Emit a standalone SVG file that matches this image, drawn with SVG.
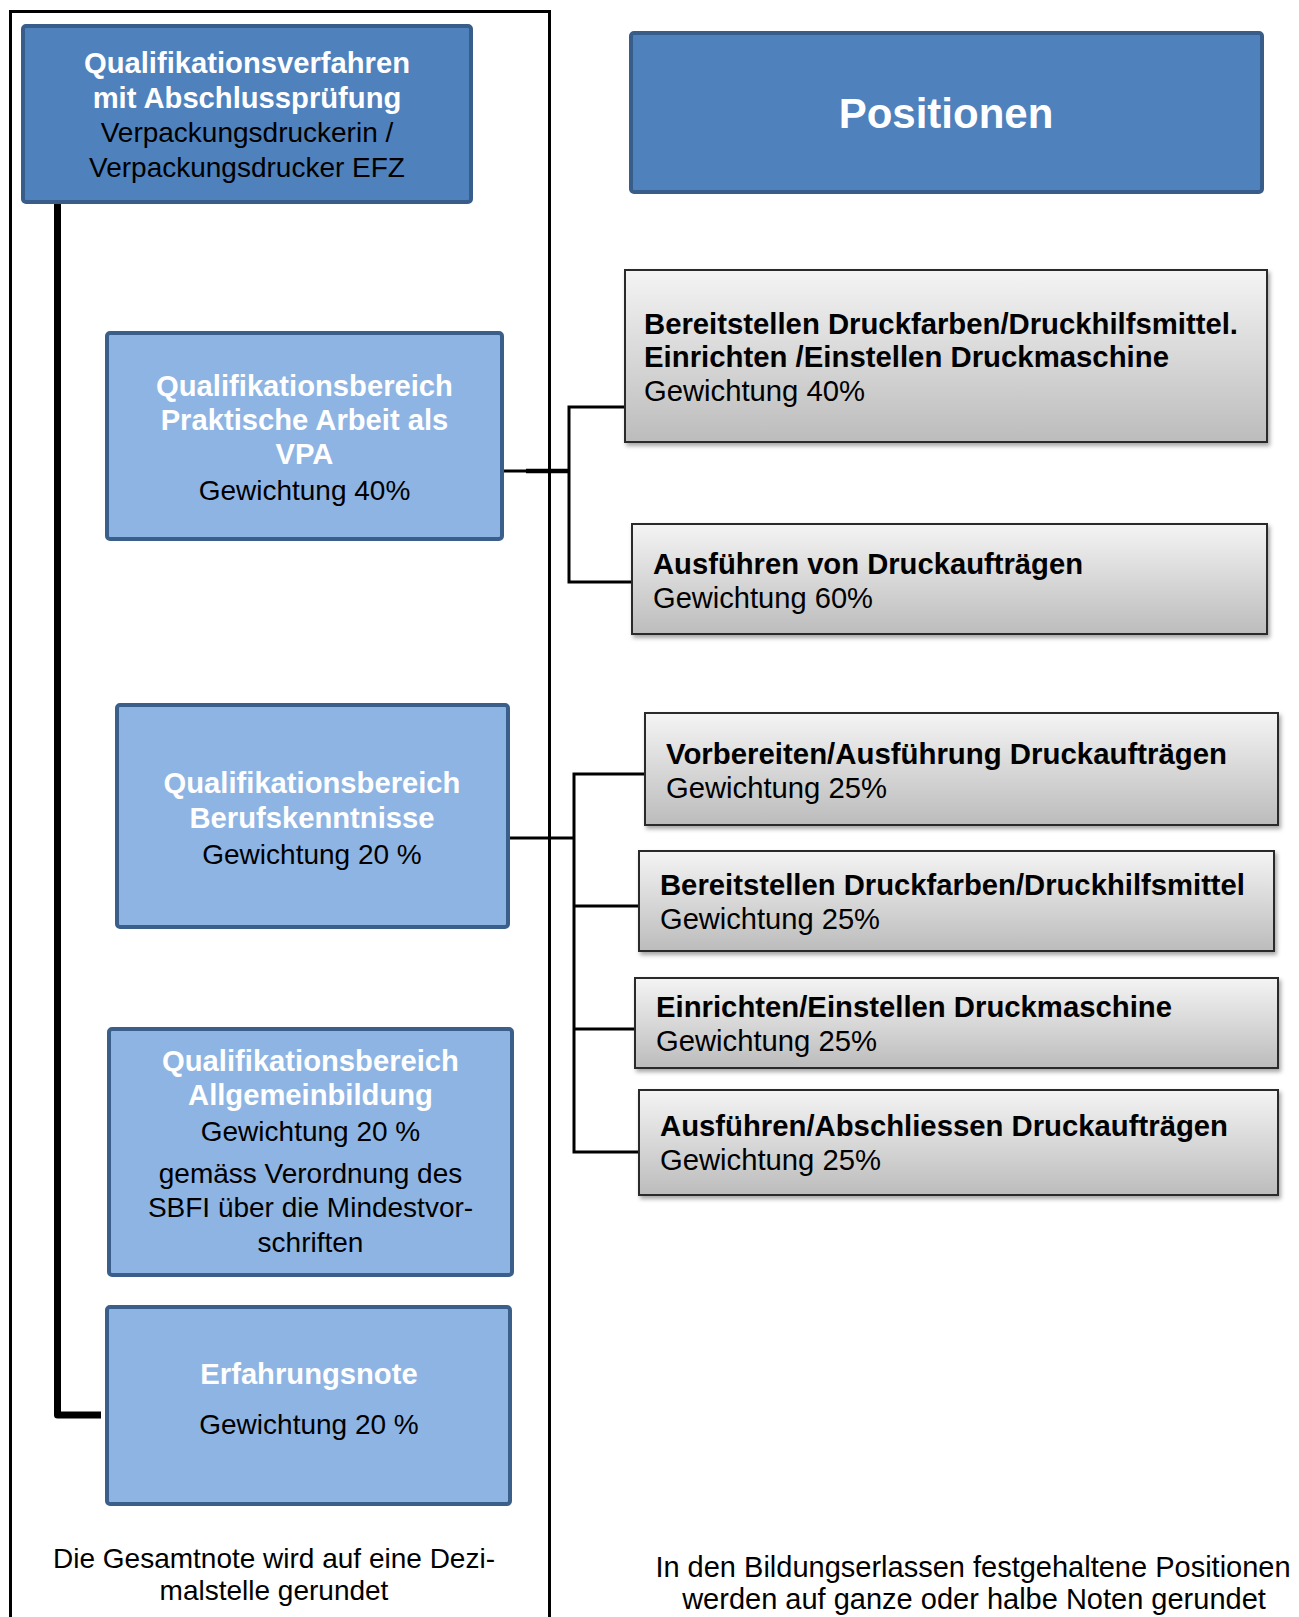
<svg xmlns="http://www.w3.org/2000/svg" width="1299" height="1617" viewBox="0 0 1299 1617">
<defs>
<linearGradient id="gray" x1="0" y1="0" x2="0" y2="1">
<stop offset="0" stop-color="#F4F4F4"/>
<stop offset="1" stop-color="#BCBCBC"/>
</linearGradient>
<filter id="shadow" x="-5%" y="-10%" width="110%" height="130%">
<feDropShadow dx="2" dy="3" stdDeviation="2" flood-color="#000" flood-opacity="0.35"/>
</filter>
</defs>
<style>
text{font-family:"Liberation Sans",Arial,sans-serif;}
.dark{fill:#4F81BD;stroke:#385D8A;stroke-width:4;}
.light{fill:#8EB4E3;stroke:#3A5F8B;stroke-width:4;}
.gbox{fill:url(#gray);stroke:#2B2B2B;stroke-width:2;filter:url(#shadow);}
.tw{fill:#FFFFFF;font-weight:bold;font-size:29.2px;text-anchor:middle;}
.tb{fill:#000000;font-size:28px;text-anchor:middle;}
.rb{fill:#000000;font-weight:bold;font-size:30px;}
.rr{fill:#000000;font-size:30px;}
.nr{fill:#000000;font-size:29px;text-anchor:middle;}
.con{fill:none;stroke:#000;stroke-width:3;}
</style>
<rect x="0" y="0" width="1299" height="1617" fill="#FFFFFF"/>
<g id="frame">
<path d="M10.5,1620 V11.5 H549.5 V1620" fill="none" stroke="#000" stroke-width="3"/>
</g>
<g id="connectors">
<path d="M57.5,202 V1415 H101" fill="none" stroke="#000" stroke-width="7" stroke-linejoin="round"/>
<path class="con" d="M503,471 H569"/>
<path d="M526,471 H569" fill="none" stroke="#000" stroke-width="4.5"/>
<path class="con" d="M625,407 H569 V582 H632"/>
<path class="con" d="M508,838 H574"/>
<path class="con" d="M645,774 H574 V1152 H639"/>
<path class="con" d="M574,906 H639"/>
<path class="con" d="M574,1029 H635"/>
</g>
<g id="qv">
<rect class="dark" x="23" y="26" width="448" height="176" rx="3"/>
<text class="tw" x="247" y="73">Qualifikationsverfahren</text>
<text class="tw" x="247" y="108">mit Abschlussprüfung</text>
<text class="tb" x="247" y="142">Verpackungsdruckerin /</text>
<text class="tb" x="247" y="177">Verpackungsdrucker EFZ</text>
</g>
<g id="positionen">
<rect class="dark" x="631" y="33" width="631" height="159" rx="3"/>
<text x="946" y="128" fill="#FFFFFF" font-weight="bold" font-size="42" text-anchor="middle">Positionen</text>
</g>
<g id="qb-praktisch">
<rect class="light" x="107" y="333" width="395" height="206" rx="3"/>
<text class="tw" x="304.5" y="396">Qualifikationsbereich</text>
<text class="tw" x="304.5" y="430">Praktische Arbeit als</text>
<text class="tw" x="304.5" y="464">VPA</text>
<text class="tb" x="304.5" y="500">Gewichtung 40%</text>
</g>
<g id="qb-beruf">
<rect class="light" x="117" y="705" width="391" height="222" rx="3"/>
<text class="tw" x="312" y="793">Qualifikationsbereich</text>
<text class="tw" x="312" y="828">Berufskenntnisse</text>
<text class="tb" x="312" y="864">Gewichtung 20 %</text>
</g>
<g id="qb-allg">
<rect class="light" x="109" y="1029" width="403" height="246" rx="3"/>
<text class="tw" x="310.5" y="1071">Qualifikationsbereich</text>
<text class="tw" x="310.5" y="1105">Allgemeinbildung</text>
<text class="tb" x="310.5" y="1141">Gewichtung 20 %</text>
<text class="tb" x="310.5" y="1183">gemäss Verordnung des</text>
<text class="tb" x="310.5" y="1217">SBFI über die Mindestvor-</text>
<text class="tb" x="310.5" y="1252">schriften</text>
</g>
<g id="erfahrung">
<rect class="light" x="107" y="1307" width="403" height="197" rx="3"/>
<text class="tw" x="309" y="1384">Erfahrungsnote</text>
<text class="tb" x="309" y="1434">Gewichtung 20 %</text>
</g>
<g id="p1">
<rect class="gbox" x="625" y="270" width="642" height="172"/>
<text class="rb" x="644" y="334" textLength="594" lengthAdjust="spacingAndGlyphs">Bereitstellen Druckfarben/Druckhilfsmittel.</text>
<text class="rb" x="644" y="367" textLength="525" lengthAdjust="spacingAndGlyphs">Einrichten /Einstellen Druckmaschine</text>
<text class="rr" x="644" y="401" textLength="221" lengthAdjust="spacingAndGlyphs">Gewichtung 40%</text>
</g>
<g id="p2">
<rect class="gbox" x="632" y="524" width="635" height="110"/>
<text class="rb" x="653" y="574" textLength="430" lengthAdjust="spacingAndGlyphs">Ausführen von Druckaufträgen</text>
<text class="rr" x="653" y="608" textLength="220" lengthAdjust="spacingAndGlyphs">Gewichtung 60%</text>
</g>
<g id="p3">
<rect class="gbox" x="645" y="713" width="633" height="112"/>
<text class="rb" x="666" y="764" textLength="561" lengthAdjust="spacingAndGlyphs">Vorbereiten/Ausführung Druckaufträgen</text>
<text class="rr" x="666" y="798" textLength="221" lengthAdjust="spacingAndGlyphs">Gewichtung 25%</text>
</g>
<g id="p4">
<rect class="gbox" x="639" y="851" width="635" height="100"/>
<text class="rb" x="660" y="895" textLength="585" lengthAdjust="spacingAndGlyphs">Bereitstellen Druckfarben/Druckhilfsmittel</text>
<text class="rr" x="660" y="929" textLength="220" lengthAdjust="spacingAndGlyphs">Gewichtung 25%</text>
</g>
<g id="p5">
<rect class="gbox" x="635" y="978" width="643" height="90"/>
<text class="rb" x="656" y="1017" textLength="516" lengthAdjust="spacingAndGlyphs">Einrichten/Einstellen Druckmaschine</text>
<text class="rr" x="656" y="1051" textLength="221" lengthAdjust="spacingAndGlyphs">Gewichtung 25%</text>
</g>
<g id="p6">
<rect class="gbox" x="639" y="1090" width="639" height="105"/>
<text class="rb" x="660" y="1136" textLength="568" lengthAdjust="spacingAndGlyphs">Ausführen/Abschliessen Druckaufträgen</text>
<text class="rr" x="660" y="1170" textLength="221" lengthAdjust="spacingAndGlyphs">Gewichtung 25%</text>
</g>
<g id="note-left">
<text class="tb" x="274" y="1568">Die Gesamtnote wird auf eine Dezi-</text>
<text class="tb" x="274" y="1600">malstelle gerundet</text>
</g>
<g id="note-right">
<text class="nr" x="973" y="1577">In den Bildungserlassen festgehaltene Positionen</text>
<text class="nr" x="974" y="1609">werden auf ganze oder halbe Noten gerundet</text>
</g>
</svg>
